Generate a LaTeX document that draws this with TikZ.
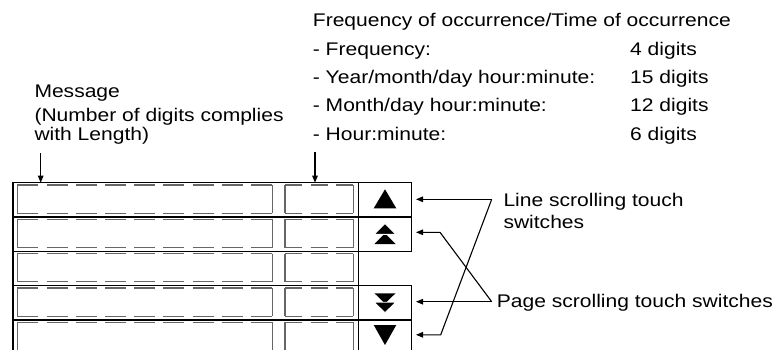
\documentclass[tikz,border=0pt]{standalone}
\usepackage{fontspec}
\setmainfont[FakeStretch=1.15]{Liberation Sans}
\usetikzlibrary{arrows.meta,calc}
\begin{document}
\begin{tikzpicture}[x=1pt,y=-1pt,
  txt/.style={anchor=base west, inner sep=0pt, font=\fontsize{18.3}{20}\selectfont},
  cell/.style={draw=black, line width=1.3pt, minimum width=345.3pt, minimum height=34.33pt, inner sep=0pt, outer sep=0pt, anchor=north west},
  btn/.style={draw=black, line width=1.3pt, minimum width=53.4pt, minimum height=34.33pt, inner sep=0pt, outer sep=0pt, anchor=north west},
  dv/.style={draw=black!60, line width=1.1pt},
  dleft/.style={dv, dash pattern=on 21pt off 8.2pt},
  dright/.style={dv, dash pattern=on 17.3pt off 8.2pt},
  conn/.style={line width=1.1pt, -{Triangle[length=7pt,width=5.5pt]}},
  whiteedge/.style={fill=black, draw=white, line width=0.9pt}
]
\useasboundingbox (0,0) rectangle (784,350);

% ---- top texts ----
\node[txt] (freqhead) at (312.7,27) {Frequency of occurrence/Time of occurrence};
\node[txt] (f1) at (312.7,55.5) {- Frequency:};
\node[txt] (f2) at (312.7,84) {- Year/month/day hour:minute:};
\node[txt] (f3) at (312.7,112) {- Month/day hour:minute:};
\node[txt] (f4) at (312.7,140) {- Hour:minute:};
\node[txt] (d1) at (630,55.5) {4 digits};
\node[txt] (d2) at (630,84) {15 digits};
\node[txt] (d3) at (630,112) {12 digits};
\node[txt] (d4) at (630,140) {6 digits};

\node[txt] (msg1) at (34.3,97.5) {Message};
\node[txt] (msg2) at (34.3,121.5) {(Number of digits complies};
\node[txt] (msg3) at (34.3,140.5) {with Length)};

\node[txt] (line1) at (503.3,206.7) {Line scrolling touch};
\node[txt] (line2) at (503.3,228.3) {switches};
\node[txt] (page) at (496.7,307.3) {Page scrolling touch switches};

% ---- table ----
\begin{scope}
\clip (0,0) rectangle (784,350);
\node[cell] (r1) at (13,182.7) {};
\node[cell] (r2) at (13,217) {};
\node[cell] (r3) at (13,251.3) {};
\node[cell] (r4) at (13,285.7) {};
\node[cell] (r5) at (13,320) {};
\node[btn] (b1) at (358.3,182.7) {};
\node[btn] (b2) at (358.3,217) {};
\node[btn] (b4) at (358.3,285.7) {};
\node[btn] (b5) at (358.3,320) {};

\foreach \t in {182.7,217,251.3,285.7,320} {
  \draw[dv] (17.3,\t+2.3) -- (17.3,\t+30.6);
  \draw[dv] (272.7,\t+2.3) -- (272.7,\t+30.6);
  \draw[dleft] (17.3,\t+2.3) -- (272.7,\t+2.3);
  \draw[dleft] (17.3,\t+30.6) -- (272.7,\t+30.6);
  \draw[dv] (285,\t+2.3) -- (285,\t+30.6);
  \draw[dv] (353.3,\t+2.3) -- (353.3,\t+30.6);
  \draw[dright] (285,\t+2.3) -- (353.3,\t+2.3);
  \draw[dright] (285,\t+30.6) -- (353.3,\t+30.6);
}

% switch symbols
\fill (385,189.3) -- (396.3,208.3) -- (373.7,208.3) -- cycle;
\fill (385,233.3) -- (395.5,244) -- (374.5,244) -- cycle;
\filldraw[whiteedge] (385,223.6) -- (395.8,234.4) -- (374.2,234.4) -- cycle;
\fill (374.5,293.3) -- (395.5,293.3) -- (385,303.5) -- cycle;
\filldraw[whiteedge] (374.2,302.2) -- (395.8,302.2) -- (385,312.8) -- cycle;
\fill (373.7,325) -- (396.3,325) -- (385,345) -- cycle;
\end{scope}

% ---- connectors ----
\coordinate (mtop) at (40.7,153);
\coordinate (ftop) at (315,152);
\draw[conn] (mtop) -- (mtop |- r1.north);
\draw[conn] (ftop) -- (ftop |- r1.north);

\coordinate (lv) at (491.7,199.3);
\coordinate (pv) at (491.7,301.7);
\coordinate (k2) at (440,232.3);
\coordinate (k5) at (440.7,334.8);
\coordinate (t1) at (416,199.3);
\coordinate (t2) at (416,232.3);
\coordinate (t4) at (416,301.7);
\coordinate (t5) at (416,334.8);

\draw[conn] (lv) -- (t1);
\draw[conn] (lv) -- (k5) -- (t5);
\draw[conn] (pv) -- (t4);
\draw[conn] (pv) -- (k2) -- (t2);
\end{tikzpicture}
\end{document}
